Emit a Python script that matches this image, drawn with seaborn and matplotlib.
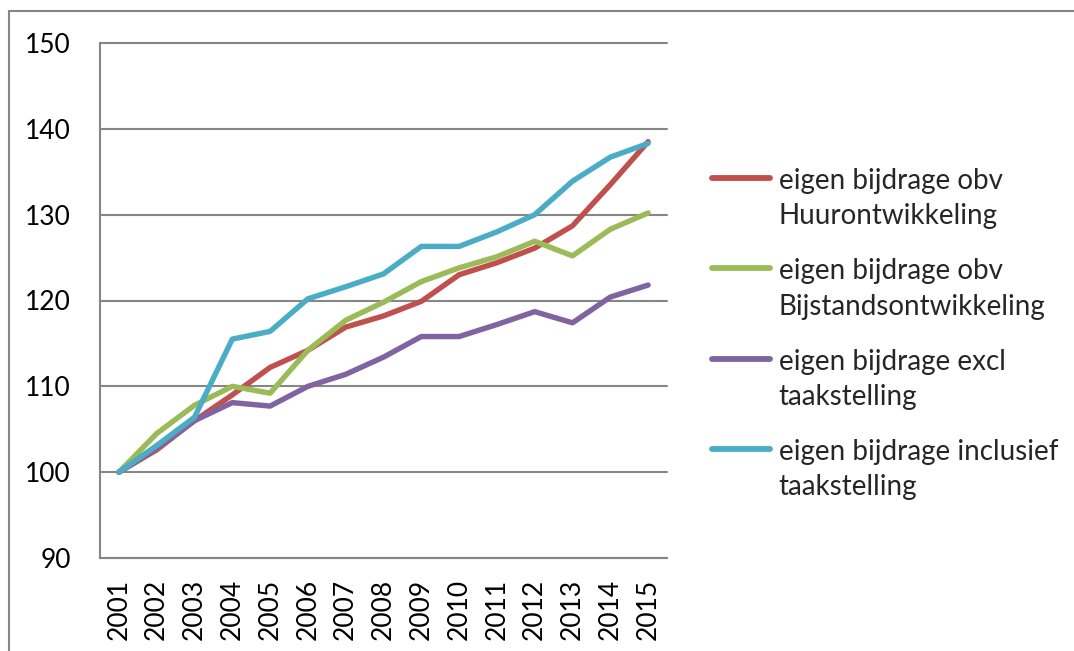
import numpy as np
import pandas as pd
import matplotlib
matplotlib.use("Agg")
import matplotlib.pyplot as plt
from matplotlib.legend_handler import HandlerLine2D
from matplotlib.patches import Rectangle
import seaborn as sns

years = [str(y) for y in range(2001, 2016)]
huur = [100, 102.6, 106.0, 109.0, 112.2, 114.2, 116.9, 118.2, 119.9, 123.0, 124.4, 126.1, 128.7, 133.5, 138.5]
bijstand = [100, 104.5, 107.8, 110.0, 109.2, 114.2, 117.7, 119.8, 122.2, 123.8, 125.1, 126.9, 125.2, 128.3, 130.2]
excl = [100, 102.8, 106.0, 108.1, 107.7, 110.0, 111.4, 113.4, 115.8, 115.8, 117.2, 118.7, 117.4, 120.4, 121.8]
incl = [100, 103.1, 106.4, 115.5, 116.4, 120.2, 121.6, 123.1, 126.3, 126.3, 128.0, 130.0, 133.9, 136.7, 138.3]

labels = [
    "eigen bijdrage obv\nHuurontwikkeling",
    "eigen bijdrage obv\nBijstandsontwikkeling",
    "eigen bijdrage excl\ntaakstelling",
    "eigen bijdrage inclusief\ntaakstelling",
]
colors = ["#C0504D", "#9BBB59", "#8064A2", "#4BACC6"]
y_ticks = [90, 100, 110, 120, 130, 140, 150]

sns.set_style("white")
plt.rcParams["font.family"] = ["Lato", "DejaVu Sans"]

rows = []
for lab, vals in zip(labels, [huur, bijstand, excl, incl]):
    for i, v in enumerate(vals):
        rows.append({"idx": i, "value": v, "series": lab})
df = pd.DataFrame(rows)

W, H = 1074, 651
fig = plt.figure(figsize=(W / 100, H / 100), dpi=100)
ax = fig.add_axes([100 / W, 1 - 558 / H, (667 - 100) / W, (558 - 43) / H])

grid_c = "#868686"
sns.lineplot(data=df, x="idx", y="value", hue="series", hue_order=labels,
             palette=colors, linewidth=3.9, ax=ax, legend=True,
             solid_capstyle="round", solid_joinstyle="round", zorder=3)

ax.set_xlim(-0.5, len(years) - 0.5)
ax.set_ylim(90, 150)
ax.set_yticks(y_ticks)
ax.set_yticklabels([str(t) for t in y_ticks], fontsize=19, color="black")
ax.set_xticks(np.arange(-0.5, len(years), 1.0))
ax.set_xticklabels([])
ax.set_xticks(np.arange(len(years)), minor=True)
ax.set_xticklabels(years, minor=True, rotation=90, fontsize=19, color="black")
ax.tick_params(axis="y", which="major", direction="out", length=5, width=1.5,
               color=grid_c, pad=16)
ax.tick_params(axis="x", which="major", direction="out", length=7.2, width=1.5,
               color=grid_c)
ax.tick_params(axis="x", which="minor", length=0, pad=15)
ax.set_xlabel("")
ax.set_ylabel("")
ax.grid(False)
for y in y_ticks:
    ax.axhline(y, color=grid_c, lw=1.5, zorder=1, clip_on=False)
for s in ["top", "right"]:
    ax.spines[s].set_visible(False)
for s in ["left", "bottom"]:
    ax.spines[s].set_color(grid_c)
    ax.spines[s].set_linewidth(1.5)


class OffsetHandler(HandlerLine2D):
    def __init__(self, dy, **kw):
        super().__init__(**kw)
        self.dy = dy

    def create_artists(self, legend, orig_handle, xdescent, ydescent, width,
                       height, fontsize, trans):
        arts = super().create_artists(legend, orig_handle, xdescent, ydescent,
                                      width, height, fontsize, trans)
        for a in arts:
            a.set_ydata(np.asarray(a.get_ydata()) + self.dy)
            a.set_solid_capstyle("round")
        return arts


handles, labs = ax.get_legend_handles_labels()
ax.get_legend().remove()
hmap = {h: OffsetHandler(15.5) for h in handles}
leg = fig.legend(handles, labs, loc="upper left",
                 bbox_to_anchor=(712 / W, 1 - 168 / H), frameon=False,
                 fontsize=20, handlelength=2.1, handletextpad=0.3,
                 labelspacing=1.04, borderpad=0, borderaxespad=0,
                 handler_map=hmap)
for t in leg.get_texts():
    t.set_linespacing(1.45)
for h in leg.legend_handles:
    h.set_linewidth(4.2)

fig.add_artist(Rectangle((9 / W, -0.1), 1.2, 1.1 - 11 / H,
                         transform=fig.transFigure, fill=False,
                         edgecolor=grid_c, lw=1.5))

fig.savefig("out.png", dpi=100)
